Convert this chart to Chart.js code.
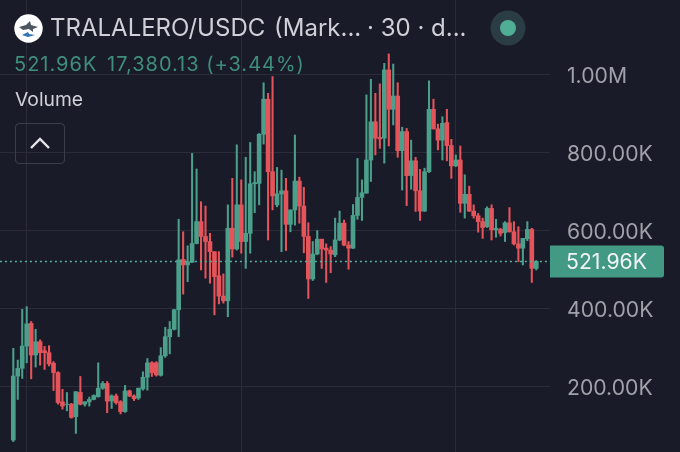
<!DOCTYPE html>
<html><head><meta charset="utf-8">
<style>
html,body{margin:0;padding:0;background:#1a1b28;width:680px;height:452px;overflow:hidden}
#wrap{position:relative;width:680px;height:452px}
canvas{position:absolute;left:0;top:0}
.t{position:absolute;font-family:Inter,"Noto Sans",sans-serif;white-space:pre;line-height:1}
.title{font-size:24px;color:#cfd0d8;top:16px}
.sub{font-size:20px;color:#3f8e7c;top:54px;letter-spacing:1px}
#vol{left:15px;top:90px;font-size:19.3px;color:#cfd0d8}
#btn{position:absolute;left:15px;top:123px;width:48px;height:39px;border:1px solid #3b3d49;border-radius:4px}
svg{position:absolute}
</style></head><body>
<div id="wrap">
<canvas id="c" width="680" height="452"></canvas>
<svg style="left:14px;top:14px" width="29" height="29" viewBox="0 0 29 29"><circle cx="14.5" cy="14.5" r="14.2" fill="#fff"/><path d="M5 13 L12 11 L16 7 L17 11 L24 13 L19 15 L19 18 L15 15 L9 16Z" fill="#4d5560"/><path d="M8 21 L14 18 L15 20 L21 21 L14 23Z" fill="#2f74b5"/></svg>
<div class="t title" style="left:50px">TRALALERO/USDC</div>
<div class="t title" style="left:274px">(Mark...</div>
<div class="t title" style="left:367px">· 30 · d...</div>
<svg style="left:490px;top:10px" width="36" height="36"><circle cx="18" cy="18" r="17.5" fill="#2a3d45"/><circle cx="18" cy="18" r="8" fill="#4fae94"/></svg>
<div class="t sub" style="left:14px">521.96K</div>
<div class="t sub" style="left:107px">17,380.13 (+3.44%)</div>
<div class="t" id="vol">Volume</div>
<div id="btn"></div>
<svg style="left:29px;top:135px" width="22" height="16"><path d="M2 13 L11 4 L20 13" fill="none" stroke="#e4e5ea" stroke-width="2.4"/></svg>
</div>
<script src="https://cdn.jsdelivr.net/npm/chart.js@4"></script>
<script>
const openValues=[64,228,248,305,363,282,316,293,288,261,237,162,155,156,124,186,156,162,168,175,197,209,164,177,162,137,190,177,172,195,225,262,262,230,280,329,348,398,527,513,520,568,624,586,573,547,485,433,421,607,554,667,573,594,721,722,848,938,752,667,695,703,617,654,728,664,586,477,541,579,556,551,539,577,620,564,556,640,686,697,782,880,840,838,1013,912,946,806,855,742,780,703,651,752,912,862,833,878,819,767,782,671,694,651,639,624,611,658,603,604,596,621,598,567,556,580,604,504];
const highValues=[299,269,399,406,368,348,321,304,306,265,239,194,186,158,188,227,162,174,180,262,214,214,180,182,165,204,192,180,197,239,273,265,265,301,353,368,399,630,598,562,799,759,675,664,594,547,547,490,667,735,821,731,789,827,752,850,980,953,996,763,756,735,654,846,738,712,621,573,601,579,567,560,633,651,628,573,668,786,731,949,989,953,977,1030,1054,1028,980,866,863,833,789,758,761,985,938,874,893,912,835,795,818,744,715,667,645,633,662,667,630,607,624,660,624,611,581,624,607,524];
const lowValues=[60,168,222,262,221,251,256,245,254,191,156,143,139,120,81,154,151,151,167,174,194,134,145,156,131,135,175,165,168,192,192,227,228,228,276,285,346,329,438,470,519,567,500,479,466,385,413,415,380,533,551,543,504,543,647,667,823,577,654,662,547,550,598,615,620,544,427,473,539,504,468,493,534,575,562,502,555,630,627,697,727,795,812,774,818,872,789,705,665,707,650,627,650,750,861,808,782,780,735,765,648,633,650,633,597,581,609,577,584,587,573,597,564,521,513,575,468,500];
const closeValues=[228,248,305,362,282,316,288,288,259,237,160,151,156,122,188,156,162,168,178,197,209,164,177,160,137,190,177,170,197,225,262,237,231,280,329,348,398,526,513,521,568,624,586,573,547,483,433,421,607,554,667,573,594,721,724,848,938,752,690,695,703,617,654,728,664,586,477,541,579,554,551,541,577,620,564,556,640,686,698,782,880,838,836,1013,912,946,806,855,742,780,703,651,752,912,862,833,876,819,767,782,671,694,651,639,624,609,658,603,607,594,621,598,567,556,581,604,504,521.96];
const candleIndex=openValues.map((_,i)=>i);
const gridIndex=[3,51,99];
const lastPrice=521.96;
const lastLabel="521.96K";
const UP="#4b9f8b",DOWN="#e5545a";
const colors=candleIndex.map(i=>closeValues[i]>=openValues[i]?UP:DOWN);
const fmt=v=>v>=1000?(v/1000).toFixed(2)+"M":v.toFixed(2)+"K";

const priceTag={id:"priceTag",afterDraw(ch){
  const g=ch.ctx,y=ch.scales.y.getPixelForValue(lastPrice);
  g.save();g.fillStyle="#429a84";g.beginPath();g.roundRect(550,y-16,114,32,[0,3,3,0]);g.fill();
  g.fillStyle="#f2f3f5";g.font='21.2px Inter,"Noto Sans",sans-serif';g.textBaseline="middle";g.textAlign="left";
  g.fillText(lastLabel,566,y+1);g.restore();
}};

new Chart(document.getElementById("c"),{
  data:{datasets:[
    {type:"bar",label:"wick",grouped:false,order:2,barThickness:1.4,backgroundColor:colors,borderWidth:0,
     data:candleIndex.map(i=>({x:i,y:[lowValues[i],highValues[i]]}))},
    {type:"bar",label:"body",grouped:false,order:1,barThickness:4,backgroundColor:colors,borderWidth:0,
     data:candleIndex.map(i=>({x:i,y:[openValues[i],closeValues[i]]}))},
    {type:"line",label:"last",order:0,borderColor:"#55b09b",borderWidth:1.5,borderDash:[2,3],pointRadius:0,
     data:[{x:-3,y:lastPrice},{x:121,y:lastPrice}]}
  ]},
  options:{responsive:false,animation:false,devicePixelRatio:1,
    layout:{padding:0},
    plugins:{legend:{display:false},tooltip:{enabled:false}},
    scales:{
      x:{type:"linear",min:-2.975,max:120.07,offset:false,
        afterBuildTicks:s=>{s.ticks=gridIndex.map(v=>({value:v}))},
        ticks:{display:false,autoSkip:false},
        grid:{color:"#2b2c38",drawTicks:false,lineWidth:1,offset:false},border:{display:false}},
      y:{type:"linear",position:"right",min:33.3,max:1192.3,
        afterFit:s=>{s.width=130;s.paddingTop=0;s.paddingBottom=0},
        afterBuildTicks:s=>{s.ticks=[200,400,600,800,1000].map(v=>({value:v}))},
        ticks:{padding:17,crossAlign:"near",labelOffset:1.5,color:"#a0a1ab",font:{family:'Inter,"Noto Sans",sans-serif',size:21.2},callback:fmt},
        grid:{color:"#2b2c38",drawTicks:false,lineWidth:1},border:{display:false}}
    }
  },
  plugins:[priceTag]
});
</script>
</body></html>
